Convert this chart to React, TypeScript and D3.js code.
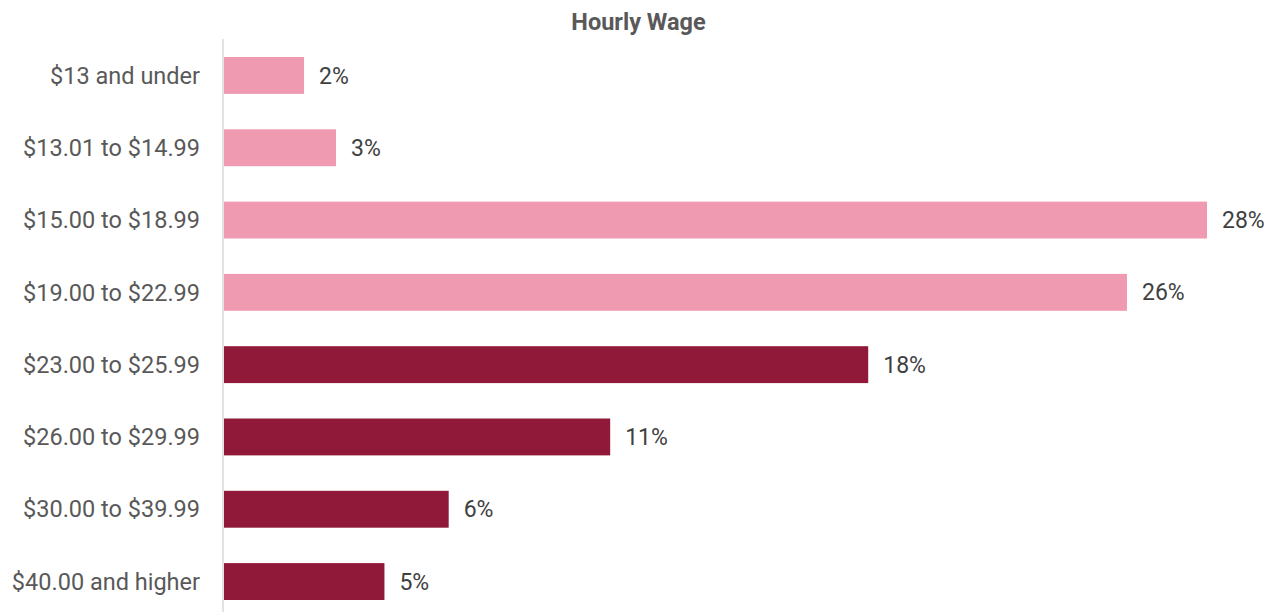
import React from "react";
import * as d3 from "d3";

const categories = [
  "$13 and under",
  "$13.01 to $14.99",
  "$15.00 to $18.99",
  "$19.00 to $22.99",
  "$23.00 to $25.99",
  "$26.00 to $29.99",
  "$30.00 to $39.99",
  "$40.00 and higher",
];
const values = [2.28, 3.19, 28.0, 25.72, 18.35, 11.0, 6.4, 4.57];
const valueLabels = ["2%", "3%", "28%", "26%", "18%", "11%", "6%", "5%"];
const groups = ["light", "light", "light", "light", "dark", "dark", "dark", "dark"];
const title = "Hourly Wage";

const W = 1273;
const H = 612;

export default function App() {
  const x = d3.scaleLinear().domain([0, 28]).range([224, 1207]);
  const y = d3
    .scaleBand<string>()
    .domain(categories)
    .range([39.3, 617.7])
    .paddingInner(0.49)
    .paddingOuter(0.245);
  const color = d3.scaleOrdinal<string, string>().domain(["light", "dark"]).range(["#f09ab1", "#901838"]);
  const font = "Roboto, 'Liberation Sans', sans-serif";
  return (
    <svg
      width={W}
      height={H}
      style={{ position: "absolute", left: 0, top: 0, background: "#fff" }}
      fontFamily={font}
    >
      <text x={638.5} y={30} textAnchor="middle" fontSize={23.5} fontWeight="bold" fill="#595959">
        {title}
      </text>
      {categories.map((c, i) => (
        <g key={c}>
          <rect
            x={x(0)}
            y={y(c)!}
            width={x(values[i]) - x(0)}
            height={y.bandwidth()}
            fill={color(groups[i])}
          />
          <text
            x={x(values[i]) + 15}
            y={y(c)! + y.bandwidth() / 2}
            dy="0.35em"
            fontSize={23}
            fill="#404040"
          >
            {valueLabels[i]}
          </text>
          <text
            x={200}
            y={y(c)! + y.bandwidth() / 2}
            dy="0.35em"
            textAnchor="end"
            fontSize={23.5}
            fill="#595959"
          >
            {c}
          </text>
        </g>
      ))}
      <line x1={223} x2={223} y1={39} y2={H} stroke="#d9d9d9" strokeWidth={1.5} />
    </svg>
  );
}
